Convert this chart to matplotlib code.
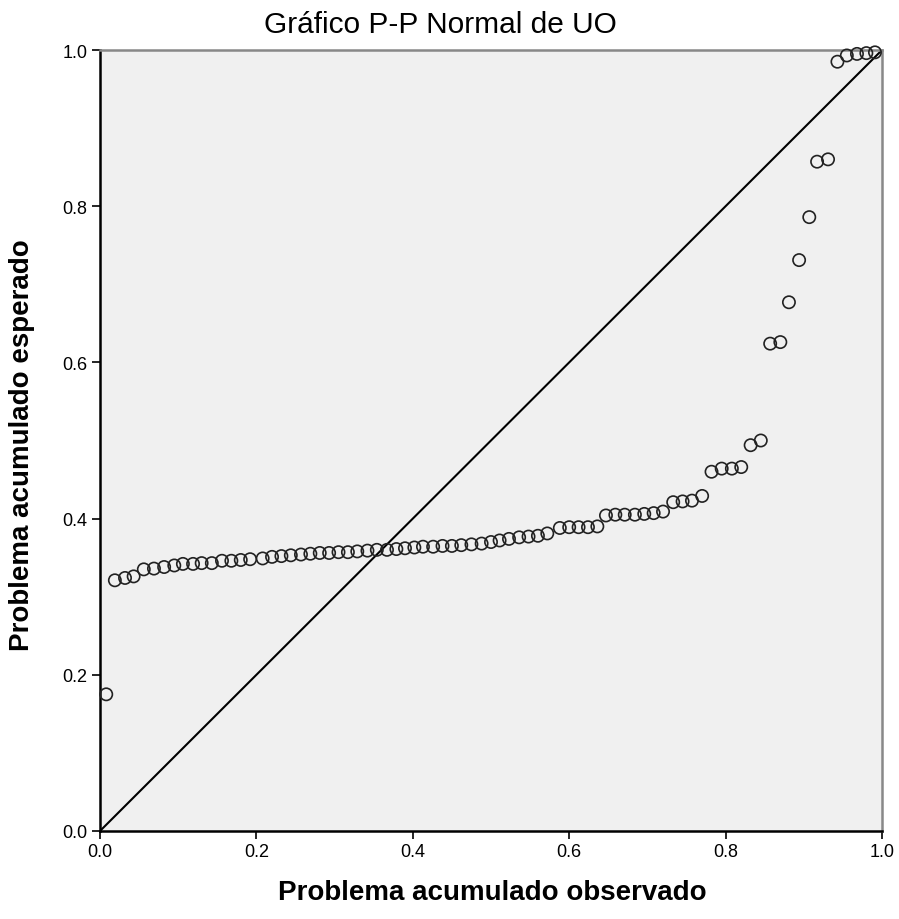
import matplotlib
matplotlib.use("Agg")
import matplotlib.pyplot as plt

# Observed cumulative probability (x) and expected cumulative probability (y)
observed = [
    0.008, 0.019, 0.032, 0.043, 0.056, 0.069, 0.082, 0.095, 0.106, 0.119,
    0.130, 0.143, 0.156, 0.168, 0.180, 0.192,
    0.208, 0.220, 0.232, 0.244, 0.257, 0.269, 0.281, 0.293, 0.305, 0.317,
    0.329, 0.342, 0.354, 0.367, 0.379, 0.390,
    0.402, 0.413, 0.426, 0.438, 0.450, 0.462, 0.475, 0.488, 0.500, 0.511,
    0.523, 0.536, 0.548, 0.560, 0.572,
    0.588, 0.600, 0.612, 0.624, 0.636, 0.647, 0.659, 0.671, 0.684, 0.696,
    0.708, 0.720, 0.733, 0.745, 0.757, 0.770,
    0.782, 0.795, 0.808, 0.820, 0.832, 0.845,
    0.857, 0.870, 0.881, 0.894, 0.907, 0.917, 0.931, 0.943, 0.955, 0.968,
    0.980, 0.991,
]
expected = [
    0.175, 0.321, 0.324, 0.326, 0.335, 0.336, 0.338, 0.340, 0.342, 0.342,
    0.343, 0.343, 0.346, 0.346, 0.347, 0.348,
    0.349, 0.351, 0.352, 0.353, 0.354, 0.355, 0.356, 0.356, 0.357, 0.357,
    0.358, 0.359, 0.360, 0.360, 0.361, 0.362,
    0.363, 0.364, 0.364, 0.365, 0.365, 0.366, 0.367, 0.368, 0.370, 0.372,
    0.374, 0.376, 0.377, 0.378, 0.381,
    0.388, 0.389, 0.389, 0.389, 0.390, 0.404, 0.405, 0.405, 0.405, 0.406,
    0.407, 0.409, 0.421, 0.422, 0.423, 0.429,
    0.460, 0.464, 0.464, 0.466, 0.494, 0.500,
    0.624, 0.626, 0.677, 0.731, 0.786, 0.857, 0.860, 0.985, 0.993, 0.995,
    0.996, 0.997,
]
ticks = [0.0, 0.2, 0.4, 0.6, 0.8, 1.0]
tick_labels = ["0.0", "0.2", "0.4", "0.6", "0.8", "1.0"]

plt.rcParams['font.family'] = ['Liberation Sans', 'DejaVu Sans']

fig = plt.figure(figsize=(8.99, 9.2), dpi=100)
ax = fig.add_axes([100/899, 1-832/920, 782/899, 781/920])
ax.set_facecolor('#F0F0F0')

ax.plot([0, 1], [0, 1], color='black', lw=1.5, zorder=2)
ax.scatter(observed, expected, s=78, facecolors='none', edgecolors='#222222',
           linewidths=1.2, zorder=3, clip_on=False)

ax.set_xlim(0, 1)
ax.set_ylim(0, 1)
ax.set_xticks(ticks)
ax.set_xticklabels(tick_labels)
ax.set_yticks(ticks)
ax.set_yticklabels(tick_labels)
ax.tick_params(direction='out', length=6, width=1.2, labelsize=13, colors='black', pad=3)

for s in ['left', 'bottom']:
    ax.spines[s].set_color('black')
    ax.spines[s].set_linewidth(1.8)
for s in ['top', 'right']:
    ax.spines[s].set_color('#888888')
    ax.spines[s].set_linewidth(1.8)

fig.text(0.49, 1 - 25/920, "Gráfico P-P Normal de UO", fontsize=21.5,
         ha='center', va='center')
fig.text(492/899, 1 - 893/920, "Problema acumulado observado", fontsize=20,
         fontweight='bold', ha='center', va='center')
fig.text(22/899, 1 - 445/920, "Problema acumulado esperado", fontsize=20,
         fontweight='bold', ha='center', va='center', rotation=90)

fig.savefig("out.png", dpi=100)
